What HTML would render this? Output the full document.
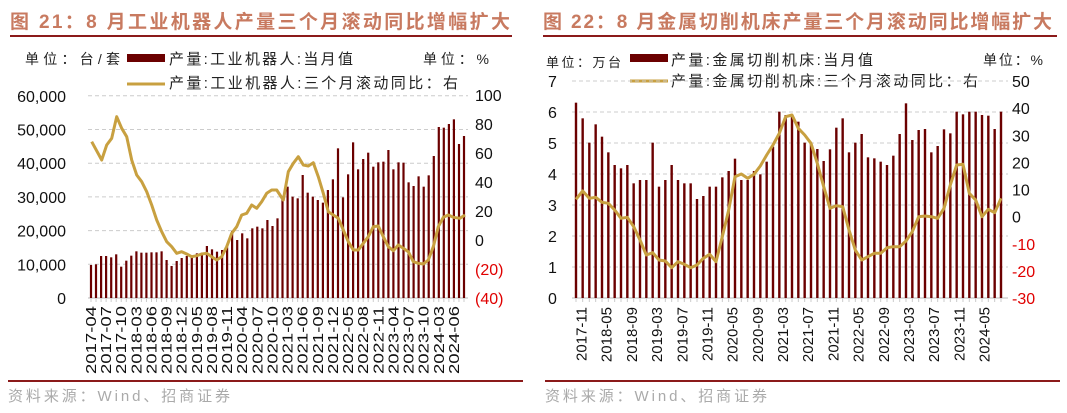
<!DOCTYPE html>
<html><head><meta charset="utf-8"><style>
html,body{margin:0;padding:0;background:#fff;}
svg{display:block;font-family:"Liberation Sans","Noto Sans CJK SC",sans-serif;}
</style></head><body>
<svg id="s" width="1067" height="413" viewBox="0 0 1067 413" xmlns="http://www.w3.org/2000/svg">
<text x="10" y="28" font-size="19" font-weight="bold" fill="#c87a60" textLength="500" lengthAdjust="spacing">图 21：8 月工业机器人产量三个月滚动同比增幅扩大</text>
<line x1="10" y1="36" x2="512" y2="36" stroke="#8b1a1a" stroke-width="2"/>
<text x="543" y="28" font-size="19" font-weight="bold" fill="#c87a60" textLength="509" lengthAdjust="spacing">图 22：8 月金属切削机床产量三个月滚动同比增幅扩大</text>
<line x1="543" y1="36" x2="1057" y2="36" stroke="#8b1a1a" stroke-width="2"/>
<line x1="8" y1="381" x2="523" y2="381" stroke="#8b1a1a" stroke-width="2"/>
<line x1="545" y1="381" x2="1060" y2="381" stroke="#8b1a1a" stroke-width="2"/>
<text x="8" y="401" font-size="15" fill="#aaa" textLength="222" lengthAdjust="spacing">资料来源：Wind、招商证券</text>
<text x="545" y="401" font-size="15" fill="#aaa" textLength="222" lengthAdjust="spacing">资料来源：Wind、招商证券</text>
<text x="25" y="64" font-size="14" fill="#222" textLength="95" lengthAdjust="spacing">单位：台/套</text>
<rect x="127" y="54" width="38" height="8" fill="#6b0000"/>
<text x="169" y="64" font-size="15" fill="#222" textLength="184" lengthAdjust="spacing">产量:工业机器人:当月值</text>
<line x1="127" y1="84" x2="165" y2="84" stroke="#c8a040" stroke-width="3"/>
<text x="169" y="88" font-size="15" fill="#222" textLength="289" lengthAdjust="spacing">产量:工业机器人:三个月滚动同比：右</text>
<text x="423" y="64" font-size="14" fill="#222" textLength="66" lengthAdjust="spacing">单位：%</text>
<text x="546" y="67" font-size="13" fill="#222" textLength="75" lengthAdjust="spacing">单位：万台</text>
<rect x="630" y="54" width="38" height="8" fill="#6b0000"/>
<text x="671" y="65" font-size="15" fill="#222" textLength="202" lengthAdjust="spacing">产量:金属切削机床:当月值</text>
<line x1="630" y1="81" x2="668" y2="81" stroke="#c8a040" stroke-width="3"/>
<text x="671" y="86" font-size="15" fill="#222" textLength="307" lengthAdjust="spacing">产量:金属切削机床:三个月滚动同比：右</text>
<text x="983" y="65" font-size="14" fill="#222" textLength="60" lengthAdjust="spacing">单位：%</text>
<g id="g"></g>
</svg>
<script>
var g=document.getElementById('g'),h='';
function T(x,y,t,o){h+='<text x="'+x+'" y="'+y+'" '+(o||'')+'>'+t+'</text>';}
var L0=298,Lp=33.7;
for(var i=0;i<=6;i++){var y=L0-i*Lp;
 if(i>0)h+='<line x1="88" y1="'+y+'" x2="468" y2="'+y+'" stroke="#ccc" stroke-dasharray="4,3"/>';
 T(66,y+6,i==0?'0':(i*10)+',000','font-size="16" text-anchor="end" fill="#111"');}
for(var i=0;i<=7;i++){var r=100-20*i;var y=95+(100-r)*1.45;var lab=r<0?'('+(-r)+')':r;
 T(475,y+6,lab,'font-size="16" fill="'+(r<0?'#e00000':'#111')+'"');}
h+='<line x1="88" y1="298" x2="468" y2="298" stroke="#bbb"/>';
var lb=[[35,465],[48,463],[62,438],[78,438],[94,442],[108,433],[124,470],[139,452],[155,437],[170,424],[185,428],[200,428],[215,427],[230,427],[245,424],[260,450],[275,468],[290,453],[305,444],[320,438],[335,440],[350,430],[365,428],[383,408],[398,418],[413,425],[428,420],[443,412],[458,363],[473,390],[488,370],[503,385],[518,355],[533,350],[548,355],[563,330],[578,348],[593,325],[608,265],[623,230],[638,260],[653,265],[668,195],[683,248],[698,260],[713,270],[728,278],[743,240],[758,208],[773,115],[788,262],[803,193],[818,97],[833,178],[848,147],[863,128],[878,170],[893,157],[908,155],[923,120],[938,178],[953,157],[968,158],[983,217],[998,228],[1013,199],[1028,230],[1043,196],[1058,138],[1073,51],[1088,53],[1103,42],[1118,28],[1133,102],[1148,78]];
var n=lb.length,bx=[];
lb.forEach(function(p,i){var x=91+i*(373/(n-1));bx.push(x);var y=p[1]/3+110;h+='<rect x="'+(x-1.1).toFixed(1)+'" y="'+y+'" width="2.2" height="'+(298-y)+'" fill="#6b0000"/>';
 h+='<line x1="'+x+'" y1="298" x2="'+x+'" y2="302" stroke="#ccc"/>';});
var ll=[[35,95],[65,150],[80,105],[95,85],[110,20],[125,55],[140,80],[155,150],[170,195],[185,215],[200,245],[215,285],[230,330],[245,365],[260,395],[275,410],[290,430],[305,425],[320,432],[335,440],[350,437],[365,432],[380,430],[395,440],[410,450],[425,440],[440,410],[455,370],[470,350],[485,315],[500,310],[515,285],[530,295],[545,275],[560,250],[575,240],[590,240],[610,270],[625,185],[640,160],[655,140],[670,165],[685,168],[700,158],[715,200],[730,250],[745,305],[760,315],[775,325],[790,360],[805,395],[820,420],[835,420],[850,400],[865,380],[880,350],[895,348],[910,380],[925,410],[940,422],[955,405],[970,415],[985,425],[1000,455],[1015,460],[1030,462],[1045,450],[1060,410],[1075,350],[1090,322],[1105,315],[1120,322],[1140,325],[1155,315]];
h+='<polyline fill="none" stroke="#c8a040" stroke-width="3" stroke-linejoin="round" points="'+ll.map(function(p){return (p[0]/3+80).toFixed(1)+','+(p[1]/3+110).toFixed(1)}).join(' ')+'"/>';
var llab=['2017-04','2017-07','2017-10','2018-03','2018-06','2018-09','2018-12','2019-05','2019-08','2019-11','2020-04','2020-07','2020-10','2021-03','2021-06','2021-09','2021-12','2022-05','2022-08','2022-11','2023-04','2023-07','2023-10','2024-03','2024-06'];
llab.forEach(function(s,k){var x=bx[k*3];
 T(0,0,s,'transform="translate('+(x+5).toFixed(1)+',306) rotate(-90)" text-anchor="end" font-size="15" fill="#111" textLength="68" lengthAdjust="spacingAndGlyphs"');});
var R0=298,Rp=31;
for(var i=0;i<=7;i++){var y=R0-i*Rp;
 if(i>0)h+='<line x1="572" y1="'+y+'" x2="1008" y2="'+y+'" stroke="#ccc" stroke-dasharray="4,3"/>';
 T(548,y+6,i,'font-size="16" fill="#111"');}
for(var i=0;i<=8;i++){var r=50-10*i;var y=81+i*(217/8);
 T(1012,y+6,r,'font-size="16" fill="'+(r<0?'#e00000':'#111')+'"');}
h+='<line x1="572" y1="298" x2="1008" y2="298" stroke="#bbb"/>';
var rb=[[48,68],[68,115],[88,188],[107,133],[126,170],[145,217],[164,255],[183,265],[202,255],[221,310],[240,300],[259,300],[278,188],[297,320],[316,300],[335,255],[354,300],[373,310],[392,310],[411,357],[430,348],[449,320],[468,320],[487,292],[506,273],[525,236],[544,300],[563,300],[582,273],[601,283],[620,245],[639,200],[658,95],[677,105],[696,105],[715,125],[734,188],[753,188],[772,207],[791,243],[810,208],[829,143],[848,115],[867,217],[886,188],[905,162],[924,232],[943,235],[962,245],[981,255],[1000,227],[1019,162],[1038,70],[1057,180],[1076,150],[1095,147],[1114,217],[1133,198],[1152,148],[1171,160],[1190,95],[1209,103],[1228,95],[1247,95],[1266,105],[1285,107],[1304,147],[1323,95]];
rb.forEach(function(p){var x=p[0]/3+560,y=p[1]/3+80;h+='<rect x="'+(x-1.2)+'" y="'+y+'" width="2.4" height="'+(298-y)+'" fill="#6b0000"/>';
 h+='<line x1="'+x+'" y1="298" x2="'+x+'" y2="302" stroke="#ccc"/>';});
var rl=[[48,358],[68,333],[88,355],[107,352],[126,367],[145,370],[164,390],[183,415],[202,412],[221,440],[240,480],[259,525],[278,518],[297,540],[316,543],[335,563],[354,545],[373,553],[392,563],[411,555],[430,535],[449,523],[468,545],[487,470],[506,390],[525,290],[544,282],[563,295],[582,283],[601,258],[620,225],[639,195],[658,160],[677,110],[696,105],[715,145],[734,165],[753,190],[772,250],[791,320],[810,385],[829,377],[848,380],[867,450],[886,510],[905,540],[924,530],[943,520],[962,520],[981,503],[1000,500],[1019,500],[1038,483],[1057,455],[1076,410],[1095,408],[1114,410],[1133,415],[1152,385],[1171,315],[1190,255],[1209,253],[1228,340],[1247,360],[1266,410],[1285,388],[1304,398],[1323,355]];
h+='<polyline fill="none" stroke="#c8a040" stroke-width="3" stroke-linejoin="round" points="'+rl.map(function(p){return (p[0]/3+560).toFixed(1)+','+(p[1]/3+80).toFixed(1)}).join(' ')+'"/>';
var rlab=['2017-11','2018-05','2018-09','2019-03','2019-07','2019-11','2020-05','2020-09','2021-03','2021-07','2021-11','2022-05','2022-09','2023-03','2023-07','2023-11','2024-05'];
rlab.forEach(function(s,k){var x=581+k*(403/16);
 T(0,0,s,'transform="translate('+(x+5.5).toFixed(1)+',307) rotate(-90)" text-anchor="end" font-size="15" fill="#111"');});
g.innerHTML=h;
</script>
</body></html>
